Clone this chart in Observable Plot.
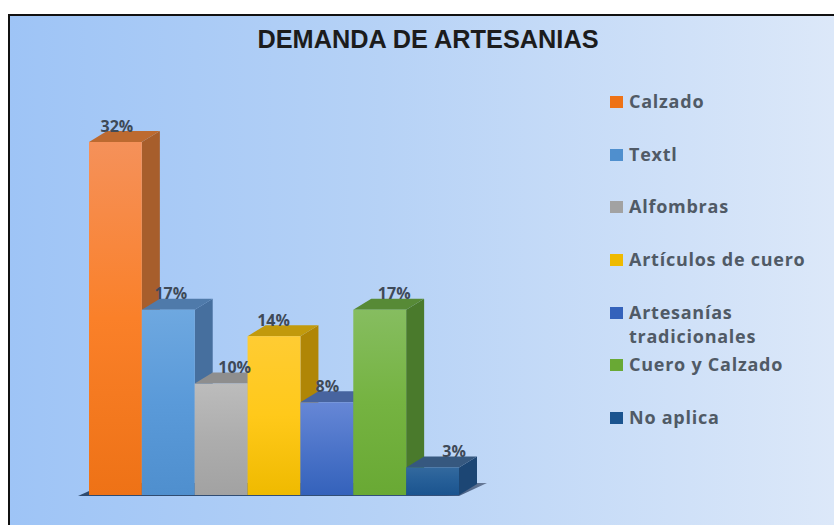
<!DOCTYPE html>
<html><head><meta charset="utf-8">
<script src="https://cdn.jsdelivr.net/npm/d3@7"></script>
<script src="https://cdn.jsdelivr.net/npm/@observablehq/plot@0.6"></script>
<style>
html,body{margin:0;padding:0;background:#fff;width:834px;height:525px;overflow:hidden}
#frame{position:absolute;left:8px;top:14px;width:826px;height:511px;box-sizing:border-box;border-left:2px solid #111;border-top:2px solid #111;background:linear-gradient(90deg,#9ec4f6 0%,#b6d2f6 45%,#dce8f9 100%)}
#title{position:absolute;left:8px;width:840px;top:25px;text-align:center;font:bold 25.3px "Liberation Sans",Arial,sans-serif;color:#1c1c1c}
#chart{position:absolute;left:0;top:0}
#legend{position:absolute;left:610px;top:89px;width:224px;font:bold 18px "Open Sans",sans-serif;letter-spacing:.75px;color:#505a66;line-height:24px}
.it{height:52.7px;display:flex;align-items:flex-start}
.sw{flex:none;width:13px;height:12px;margin:7px 6px 0 0}
</style></head><body>
<div id="frame"></div>
<div id="title">DEMANDA DE ARTESANIAS</div>
<div id="chart"></div>
<div id="legend"></div>
<script>
const categories = ["Calzado","Textl","Alfombras","Artículos de cuero","Artesanías tradicionales","Cuero y Calzado","No aplica"];
const values = [32,16.8,10.1,14.4,8.4,16.8,2.5];
const labels = ["32%","17%","10%","14%","8%","17%","3%"];
const frontTop = ["#f5915a","#6ea8e0","#bcbcbc","#ffcc33","#6687d6","#86bd60","#33699e"];
const frontMid = ["#fa8029","#5a9ad9","#adadad","#ffc91a","#4c74c9","#75b341","#255e97"];
const frontBottom = ["#ee7216","#4f8fce","#a2a2a2","#efba00","#3462bb","#69a934","#1b548f"];
const sideColors = ["#a75e2c","#466f9e","#7f7f7f","#b08606","#3f5c96","#4a7a2c","#1c4674"];
const topColors = ["#bd6a30","#4f7aaa","#8e8e8e","#c29a0c","#47649f","#578a36","#36587f"];
const labelShift = [1,2,13,-1,0,14,21];

const depthX = 18, depthY = 11;
const rows = categories.map((category,i)=>({category,value:values[i],label:labels[i],shift:labelShift[i],i}));

function polygon(points,fill){
  const p=document.createElementNS("http://www.w3.org/2000/svg","polygon");
  p.setAttribute("points",points.map(q=>q.join(",")).join(" "));
  p.setAttribute("fill",fill);
  return p;
}
// Adds the two receding faces of each bar, computed from the bar Plot placed.
function extrude(index,scales,vals,dims,ctx,next){
  const g=next(index,scales,vals,dims,ctx);
  g.querySelectorAll("rect").forEach((r,k)=>{
    const x=+r.getAttribute("x"),y=+r.getAttribute("y"),w=+r.getAttribute("width"),h=+r.getAttribute("height");
    const i=index[k];
    g.insertBefore(polygon([[x+w,y],[x+w+depthX,y-depthY],[x+w+depthX,y+h-depthY],[x+w,y+h]],sideColors[i]),r);
    g.insertBefore(polygon([[x,y],[x+depthX,y-depthY],[x+w+depthX,y-depthY],[x+w,y]],topColors[i]),r);
  });
  return g;
}
// Floor shadow under the row of bars.
function floor(index,{x,y}){
  const a=x(categories[0]),b=x(categories[categories.length-1])+x.bandwidth(),y0=y(0);
  const s=document.createElementNS("http://www.w3.org/2000/svg","g");
  s.appendChild(polygon([[a-11,y0+1],[b,y0+1],[b+28,y0-12],[a+18,y0-12]],"url(#floorG)"));
  return s;
}
function defs(){
  const s=d3.create("svg:defs");
  rows.forEach(d=>{
    const g=s.append("linearGradient").attr("id","f"+d.i).attr("x1",0).attr("y1",0).attr("x2",0).attr("y2",1);
    g.append("stop").attr("offset",0).attr("stop-color",frontTop[d.i]);
    g.append("stop").attr("offset",.5).attr("stop-color",frontMid[d.i]);
    g.append("stop").attr("offset",1).attr("stop-color",frontBottom[d.i]);
  });
  const f=s.append("linearGradient").attr("id","floorG").attr("x1",0).attr("y1",0).attr("x2",1).attr("y2",0);
  f.append("stop").attr("offset",0).attr("stop-color","#2e4a6e");
  f.append("stop").attr("offset",.9).attr("stop-color","#33507a");
  f.append("stop").attr("offset",1).attr("stop-color","#6b7c98");
  return s.node();
}
const chart=Plot.plot({
  width:834,height:525,margin:0,
  style:{background:"transparent",overflow:"visible"},
  x:{domain:categories,range:[89,459],padding:0,round:false,axis:null},
  y:{domain:[0,32],range:[495,142],axis:null},
  marks:[
    defs,
    floor,
    Plot.barY(rows,{x:"category",y:"value",fill:{value:d=>`url(#f${d.i})`,scale:null},inset:0,render:extrude}),
    ...rows.map(d=>Plot.text([d],{x:"category",y:"value",text:"label",dx:d.shift,dy:-16,
      fill:"#3f4a58",fontWeight:"bold",fontSize:16,fontFamily:"'Open Sans',sans-serif"}))
  ]
});
document.getElementById("chart").appendChild(chart);
const lg=d3.select("#legend");
rows.forEach(d=>{
  const it=lg.append("div").attr("class","it");
  it.append("div").attr("class","sw").style("background",frontBottom[d.i]);
  it.append("div").style("max-width","190px").text(d.category);
});
</script></body></html>
